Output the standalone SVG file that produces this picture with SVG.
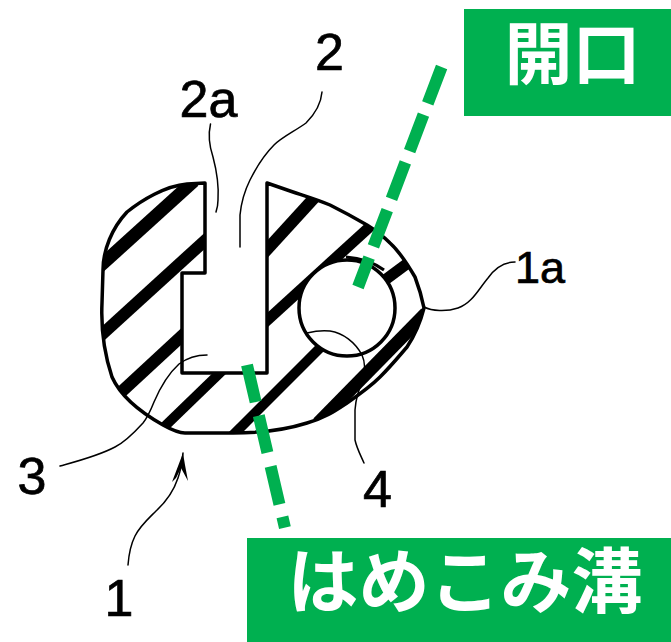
<svg xmlns="http://www.w3.org/2000/svg" width="671" height="642" viewBox="0 0 671 642">
<style>
.lbl{font-family:"Liberation Sans",Arial,sans-serif;fill:#000;stroke:#000;stroke-width:.7;text-anchor:middle}
.jp{font-family:"Noto Sans CJK JP",sans-serif;font-weight:700;fill:#fff;text-anchor:middle}
.box{fill:#00B050}
.lead{fill:none;stroke:#000;stroke-width:1.5;stroke-linecap:round;stroke-linejoin:round}
.hatch{stroke:#000;fill:none;stroke-linecap:butt}
.dash{stroke:#00B050;stroke-width:12;fill:none}
</style>
<defs>
<clipPath id="bodyClip"><path d="M205 183 L187 184 C165 186 142 200 127 212 C112 228 103 250 103 270 L102 303 C101 325 103 350 112 377 C120 395 140 412 163 425 C172 430 178 433 185 433 L233 433 C260 433 285 430 307 423 C325 418 335 411 347 403 C360 394 370 387 380 377 C392 365 400 355 407 347 C415 335 421 320 424 308 C422 298 420 290 415 277 C408 265 400 252 390 243 C382 235 375 230 367 225 C355 218 342 211 330 205 C318 200 305 196 293 192 L267 183 L267 373 L182 373 L182 273 L205 273 Z"/></clipPath>
</defs>
<rect width="671" height="642" fill="#fff"/>
<g id="gasket">
<path d="M205 183 L187 184 C165 186 142 200 127 212 C112 228 103 250 103 270 L102 303 C101 325 103 350 112 377 C120 395 140 412 163 425 C172 430 178 433 185 433 L233 433 C260 433 285 430 307 423 C325 418 335 411 347 403 C360 394 370 387 380 377 C392 365 400 355 407 347 C415 335 421 320 424 308 C422 298 420 290 415 277 C408 265 400 252 390 243 C382 235 375 230 367 225 C355 218 342 211 330 205 C318 200 305 196 293 192 L267 183 L267 373 L182 373 L182 273 L205 273 Z" fill="#fff"/>
<g clip-path="url(#bodyClip)">
<path class="hatch" stroke-width="13" d="M98 268 L194 181"/>
<path class="hatch" stroke-width="12" d="M98 338 L210 236"/>
<path class="hatch" stroke-width="12" d="M118 395 L185 333"/>
<path class="hatch" stroke-width="10" d="M163 428 L225 368"/>
<path class="hatch" stroke-width="10" d="M232 436 L325 343"/>
<path class="hatch" stroke-width="12" d="M262 255 L315 197"/>
<path class="hatch" stroke-width="11" d="M262 325 L375 222"/>
<path class="hatch" stroke-width="11" d="M385 280 L412 260"/>
<path class="hatch" stroke-width="13" d="M318 423 L426 313"/>
<path d="M117 238 C122 225 130 214 138 208 C146 202 155 197 163 195 C152 207 130 228 117 238 Z" fill="#fff"/>
<path d="M364 391 C378 379 394 363 403 350 C398 362 380 381 364 391 Z" fill="#fff"/>
</g>
<circle cx="347" cy="308" r="48" fill="#fff" stroke="#000" stroke-width="3.5"/>
<path d="M346 257 C360 258 373 262 384 270" fill="none" stroke="#000" stroke-width="3"/>
<path d="M205 183 L187 184 C165 186 142 200 127 212 C112 228 103 250 103 270 L102 303 C101 325 103 350 112 377 C120 395 140 412 163 425 C172 430 178 433 185 433 L233 433 C260 433 285 430 307 423 C325 418 335 411 347 403 C360 394 370 387 380 377 C392 365 400 355 407 347 C415 335 421 320 424 308 C422 298 420 290 415 277 C408 265 400 252 390 243 C382 235 375 230 367 225 C355 218 342 211 330 205 C318 200 305 196 293 192 L267 183 L267 373 L182 373 L182 273 L205 273 Z" fill="none" stroke="#000" stroke-width="3.5" stroke-linejoin="round"/>
</g>
<g id="connectors">
<path class="lead" d="M210.500 124 C208 135 210 148 213 157 C217 172 219 185 218 200 C218 205 217 209 216 212"/>
<path class="lead" d="M322 92 C321 104 316 113 306 123 C295 131 282 137 274 145 C264 155 256 168 250 180 C244 192 241 205 240 215 L240 247"/>
<path class="lead" d="M424 307 C432 311 446 312 458 308 C472 303 478 290 488 278 C495 268 505 262 515 262"/>
<path class="lead" d="M207 355 C197 355 187 358 179 364 C168 374 160 388 154 402 C150 412 147 418 143 423 C133 434 125 442 115 447 C98 456 78 461 60 466"/>
<path class="lead" d="M128 565 C129 552 131 544 135 536 C140 526 148 519 156 511 C168 500 174 490 178 478 C181 470 182 462 183 453"/>
<path d="M183 453 L172 482 L176 478 L181 468 L188 481 L185 465 Z" fill="#000"/>
<path class="lead" d="M307 333 C315 331 322 330 330 331 C343 333 355 342 362 355 C366 364 365 372 363 380 C358 392 356 398 355 410 L355 440 C357 449 361 456 364 463"/>
<path class="dash" d="M441.600 67 L358 287" stroke-dasharray="39 12"/>
<path class="dash" d="M247 365 L285 528" stroke-dasharray="38 14 38 14 39 13 11"/>
</g>
<g id="label-2"><text class="lbl" x="329.500" y="70" font-size="52">2</text></g>
<g id="label-2a"><text class="lbl" x="208.500" y="117" font-size="52">2a</text></g>
<g id="label-1a"><text class="lbl" x="540" y="283" font-size="45">1a</text></g>
<g id="label-3"><text class="lbl" x="32" y="494" font-size="52">3</text></g>
<g id="label-4"><text class="lbl" x="377.500" y="507" font-size="52">4</text></g>
<g id="label-1"><text class="lbl" x="119" y="616" font-size="52">1</text></g>
<g id="box-kaikou">
<rect class="box" x="464" y="9" width="207" height="107"/>
<text class="jp" x="572.500" y="79" font-size="68">開口</text>
</g>
<g id="box-hamekomi">
<rect class="box" x="247" y="538" width="424" height="104"/>
<text class="jp" x="465" y="607" font-size="71">はめこみ溝</text>
</g>
</svg>
